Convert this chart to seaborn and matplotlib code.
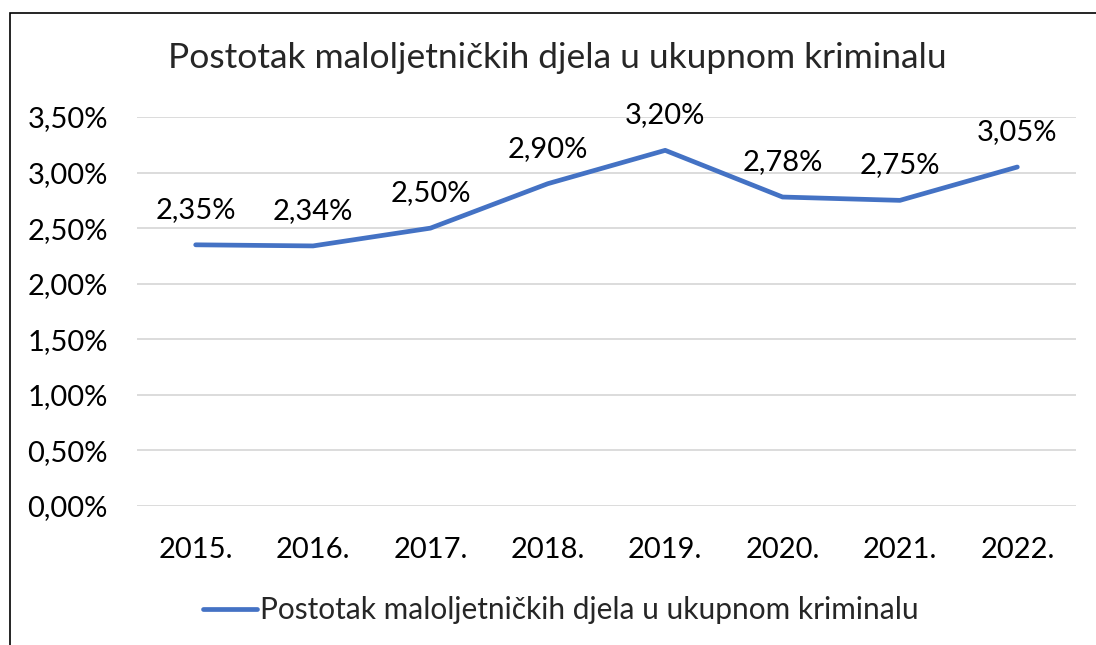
import matplotlib
matplotlib.use("Agg")
import matplotlib.pyplot as plt
import matplotlib.ticker as mticker
import pandas as pd
import seaborn as sns

# podaci
godine = ["2015.", "2016.", "2017.", "2018.", "2019.", "2020.", "2021.", "2022."]
postotak = [2.35, 2.34, 2.50, 2.90, 3.20, 2.78, 2.75, 3.05]
oznake = ["2,35%", "2,34%", "2,50%", "2,90%", "3,20%", "2,78%", "2,75%", "3,05%"]
naslov = "Postotak maloljetničkih djela u ukupnom kriminalu"

df = pd.DataFrame({"godina": godine, "postotak": postotak})

sns.set_theme(style="white")
plt.rcParams["font.family"] = ["Lato", "DejaVu Sans"]

fig = plt.figure(figsize=(10.96, 6.45), dpi=100)
ax = fig.add_axes([137 / 1096, 1 - 506 / 645, 939 / 1096, (506 - 117) / 645])

sns.lineplot(data=df, x="godina", y="postotak", color="#4472C4", linewidth=3.4,
             sort=False, ax=ax, label=naslov, solid_capstyle="round")

# oznake vrijednosti iznad tocaka
for i, (v, t) in enumerate(zip(postotak, oznake)):
    ax.annotate(t, (i, v), xytext=(0, 19.5), textcoords="offset points",
                ha="center", va="baseline", fontsize=21, color="#000000")

ax.set_xlim(-0.5, len(godine) - 0.5)
ax.set_ylim(0, 3.5)
ax.set_yticks([0, 0.5, 1.0, 1.5, 2.0, 2.5, 3.0, 3.5])
ax.yaxis.set_major_formatter(mticker.FuncFormatter(lambda v, p: f"{v:.2f}%".replace(".", ",")))
ax.grid(axis="y", color="#D9D9D9", linewidth=1.3)
ax.grid(axis="x", visible=False)
for s in ax.spines.values():
    s.set_visible(False)
ax.tick_params(axis="both", length=0, labelsize=21, colors="#000000")
ax.tick_params(axis="y", pad=21)
ax.tick_params(axis="x", pad=22)
ax.set_xlabel("")
ax.set_ylabel("")

fig.text(557 / 1096, 1 - 58 / 645, naslov, ha="center", va="center", fontsize=25.5)

leg = ax.legend(loc="center", bbox_to_anchor=((561 - 137) / 939, (506 - 610) / (506 - 117)),
                frameon=False, fontsize=21.5, handlelength=1.8, handletextpad=0.1)

# okvir grafikona
fig.add_artist(plt.Rectangle((10 / 1096, -0.1), 1.2, 1 - 13 / 645 + 0.1,
                             transform=fig.transFigure, fill=False,
                             edgecolor="#000000", linewidth=1.2))

fig.savefig("out.png", dpi=100)
